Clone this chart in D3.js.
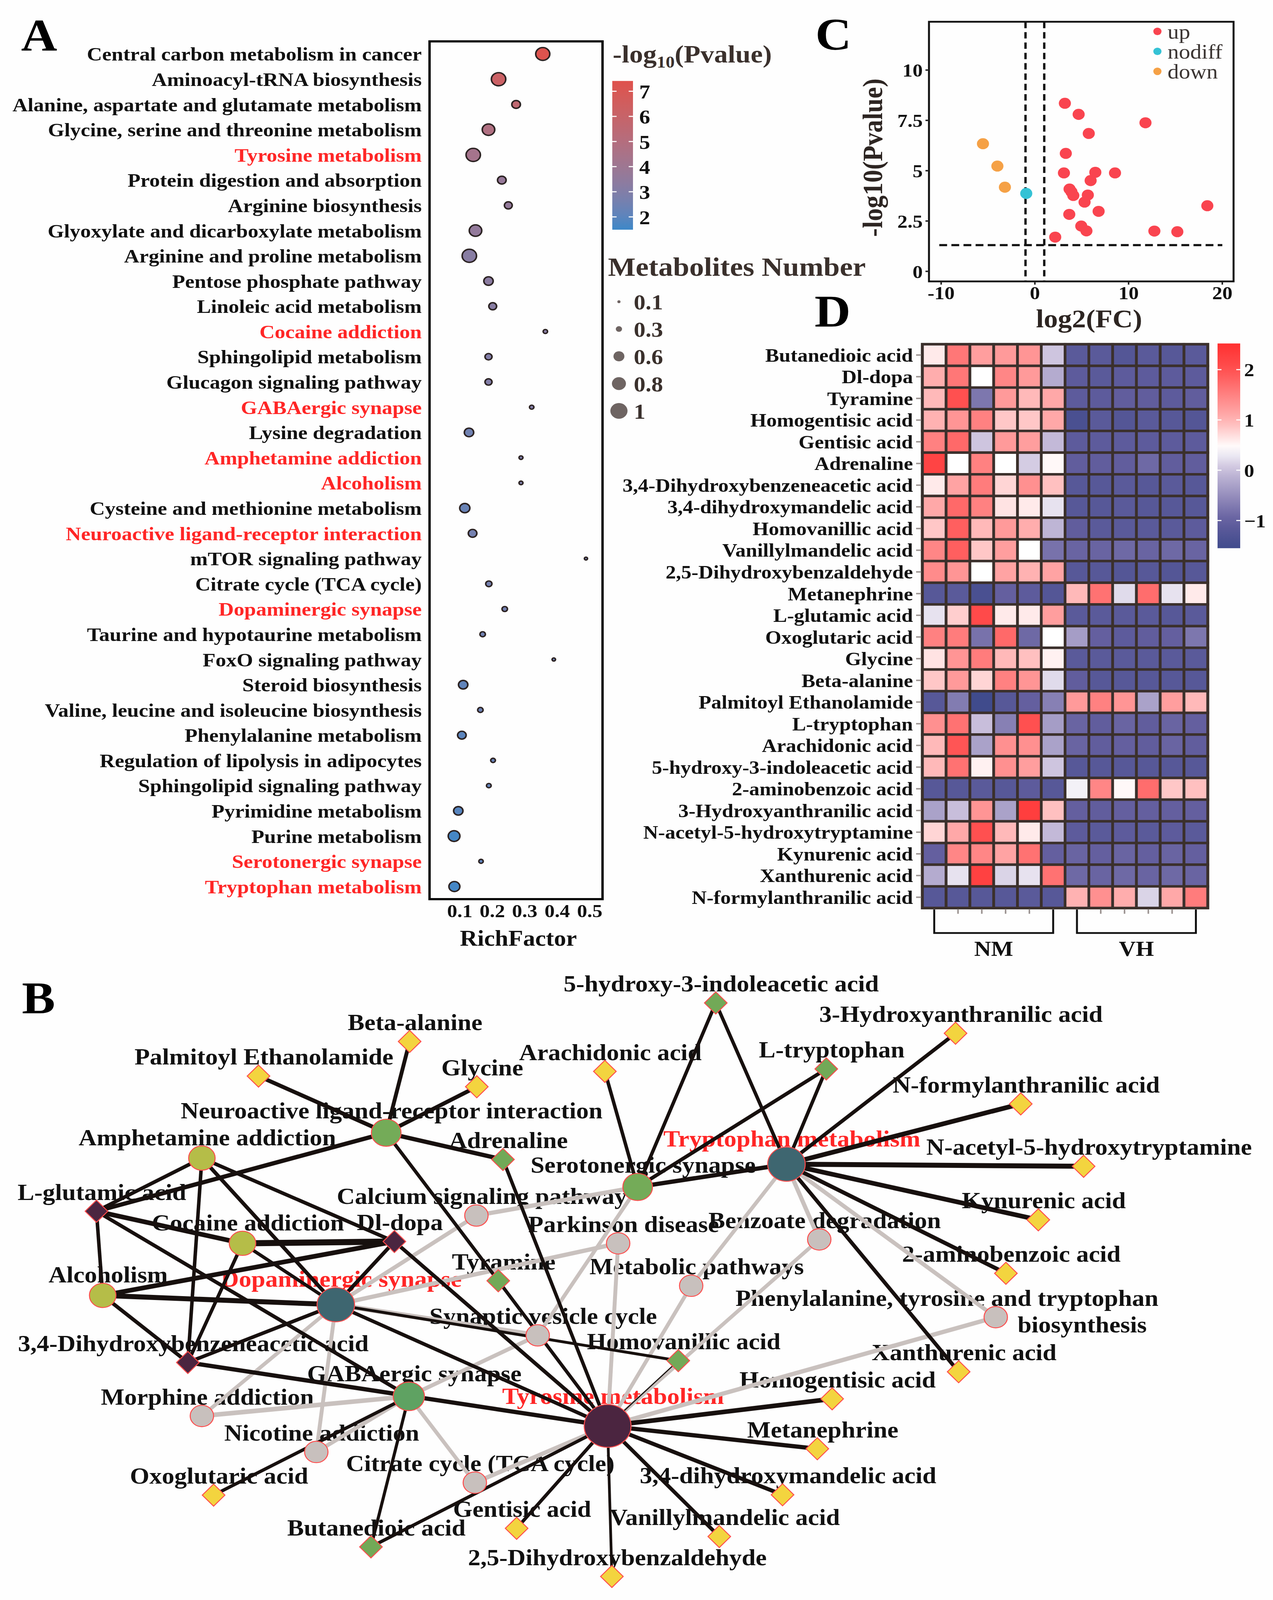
<!DOCTYPE html>
<html>
<head>
<meta charset="utf-8">
<script src="https://cdn.jsdelivr.net/npm/d3@7"></script>
<style>
html, body { margin: 0; padding: 0; background: #fefefe; overflow: hidden; }
svg { display: block; }
text { font-family: "Liberation Serif", "Times New Roman", serif; font-weight: bold; }
</style>
</head>
<body>
<div id="viz"></div>
<script>
const width = 3260;
const height = 4486;

// ---------- panel A data ----------
const pathways = ["Central carbon metabolism in cancer", "Aminoacyl-tRNA biosynthesis",
  "Alanine, aspartate and glutamate metabolism", "Glycine, serine and threonine metabolism",
  "Tyrosine metabolism", "Protein digestion and absorption", "Arginine biosynthesis",
  "Glyoxylate and dicarboxylate metabolism", "Arginine and proline metabolism",
  "Pentose phosphate pathway", "Linoleic acid metabolism", "Cocaine addiction",
  "Sphingolipid metabolism", "Glucagon signaling pathway", "GABAergic synapse",
  "Lysine degradation", "Amphetamine addiction", "Alcoholism",
  "Cysteine and methionine metabolism", "Neuroactive ligand-receptor interaction",
  "mTOR signaling pathway", "Citrate cycle (TCA cycle)", "Dopaminergic synapse",
  "Taurine and hypotaurine metabolism", "FoxO signaling pathway", "Steroid biosynthesis",
  "Valine, leucine and isoleucine biosynthesis", "Phenylalanine metabolism",
  "Regulation of lipolysis in adipocytes", "Sphingolipid signaling pathway",
  "Pyrimidine metabolism", "Purine metabolism", "Serotonergic synapse", "Tryptophan metabolism"];
const richFactor = [0.356, 0.220, 0.274, 0.189, 0.142, 0.230, 0.250, 0.149, 0.130, 0.189, 0.202, 0.364,
  0.189, 0.189, 0.322, 0.129, 0.289, 0.289, 0.116, 0.140, 0.489, 0.190, 0.239, 0.171, 0.390, 0.111,
  0.164, 0.107, 0.203, 0.190, 0.096, 0.083, 0.166, 0.084];
const logP = [7.3, 6.2, 5.6, 4.8, 4.3, 3.7, 3.6, 3.6, 3.2, 3.3, 3.2, 3.2, 3.0, 3.0, 3.0, 2.5, 2.9, 2.9,
  2.3, 2.6, 2.7, 2.6, 2.6, 2.5, 2.5, 2.1, 2.4, 2.0, 2.3, 2.2, 1.9, 1.6, 2.1, 1.6];
const metNumber = [0.9, 0.92, 0.55, 0.8, 0.92, 0.55, 0.5, 0.8, 0.92, 0.6, 0.5, 0.28, 0.45, 0.45, 0.28,
  0.6, 0.25, 0.25, 0.65, 0.55, 0.2, 0.4, 0.35, 0.35, 0.22, 0.6, 0.35, 0.55, 0.3, 0.3, 0.6, 0.75, 0.28, 0.7];
const redPathways = ["Tyrosine metabolism", "Cocaine addiction", "GABAergic synapse", "Amphetamine addiction",
  "Alcoholism", "Neuroactive ligand-receptor interaction", "Dopaminergic synapse",
  "Serotonergic synapse", "Tryptophan metabolism"];
const richTicks = [0.1, 0.2, 0.3, 0.4, 0.5];
const pTicks = [2, 3, 4, 5, 6, 7];
const sizeTicks = [0.1, 0.3, 0.6, 0.8, 1];

// ---------- panel C data ----------
const upX = [3.2, 4.67, 11.8, 5.75, 3.3, 3.1, 6.45, 8.55, 5.95, 3.7, 3.9, 4.1, 5.65, 5.3, 18.4, 6.8, 3.67, 4.95, 5.5, 12.75, 15.2, 2.17];
const upY = [8.35, 7.8, 7.38, 6.85, 5.86, 4.89, 4.92, 4.89, 4.51, 4.09, 3.95, 3.77, 3.79, 3.44, 3.26, 2.98, 2.83, 2.25, 2.01, 2.0, 1.97, 1.7];
const downX = [-5.54, -4.0, -3.2];
const downY = [6.34, 5.23, 4.18];
const nodiffX = [-0.92];
const nodiffY = [3.87];
const volcanoGroups = ["up", "nodiff", "down"];
const fcTicks = [-10, 0, 10, 20];
const pvTicks = [0, 2.5, 5, 7.5, 10];

// ---------- panel D data ----------
const metabolites = ["Butanedioic acid", "Dl-dopa", "Tyramine", "Homogentisic acid", "Gentisic acid",
  "Adrenaline", "3,4-Dihydroxybenzeneacetic acid", "3,4-dihydroxymandelic acid", "Homovanillic acid",
  "Vanillylmandelic acid", "2,5-Dihydroxybenzaldehyde", "Metanephrine", "L-glutamic acid",
  "Oxoglutaric acid", "Glycine", "Beta-alanine", "Palmitoyl Ethanolamide", "L-tryptophan",
  "Arachidonic acid", "5-hydroxy-3-indoleacetic acid", "2-aminobenzoic acid",
  "3-Hydroxyanthranilic acid", "N-acetyl-5-hydroxytryptamine", "Kynurenic acid",
  "Xanthurenic acid", "N-formylanthranilic acid"];
const samples = ["NM1", "NM2", "NM3", "NM4", "NM5", "NM6", "VH1", "VH2", "VH3", "VH4", "VH5", "VH6"];
const groups = ["NM", "VH"];
const heatValues = [
  [0.6, 1.6, 1.2, 1.25, 1.3, 0.05, -1.15, -1.15, -1.25, -1.15, -1.2, -1.15],
  [1.05, 1.6, 0.45, 1.45, 1.25, -0.2, -1.1, -1.15, -1.1, -1.1, -1.1, -1.1],
  [0.95, 2.0, -0.75, 1.25, 0.95, 1.1, -1.1, -1.1, -1.05, -1.05, -1.1, -1.05],
  [1.0, 1.3, 1.5, 0.85, 0.85, 1.1, -1.4, -1.15, -1.25, -1.15, -1.2, -1.25],
  [1.5, 1.75, 0.05, 1.25, 1.2, -0.05, -1.1, -1.1, -1.1, -1.1, -1.1, -1.1],
  [2.2, 0.45, 1.5, 0.45, 0.1, 0.5, -1.05, -1.05, -1.05, -0.9, -1.05, -1.05],
  [0.6, 1.15, 1.55, 0.75, 1.35, 0.9, -1.2, -1.2, -1.15, -1.2, -1.15, -1.2],
  [1.1, 1.75, 1.5, 0.65, 0.6, 0.25, -1.2, -1.2, -1.15, -1.2, -1.2, -1.2],
  [0.85, 1.85, 0.95, 1.25, 1.05, -0.1, -1.05, -1.15, -1.15, -1.15, -1.15, -1.1],
  [1.45, 1.85, 0.85, 1.2, 0.45, -0.8, -0.95, -0.95, -0.9, -0.95, -0.9, -0.95],
  [1.4, 1.3, 0.45, 1.15, 1.0, 1.15, -1.2, -1.2, -1.25, -1.2, -1.25, -1.2],
  [-1.2, -1.15, -1.4, -1.0, -1.1, -1.25, 0.95, 1.65, 0.2, 1.7, 0.25, 0.6],
  [0.25, 0.8, 2.1, 0.6, 0.6, 1.2, -1.15, -1.15, -1.15, -1.15, -1.2, -1.15],
  [1.5, 1.55, -0.8, 1.75, -0.9, 0.45, -0.35, -1.0, -1.1, -1.05, -1.0, -0.75],
  [0.65, 1.3, 1.55, 0.95, 0.9, 0.55, -1.15, -1.15, -1.15, -1.15, -1.15, -1.15],
  [0.85, 1.25, 0.75, 1.5, 1.3, 0.2, -1.05, -1.2, -1.2, -1.2, -1.2, -1.2],
  [-1.2, -0.7, -1.55, -1.2, -1.0, -0.65, 1.25, 1.5, 1.3, -0.3, 1.2, 0.95],
  [1.35, 1.65, 0.0, -0.65, 2.0, -0.35, -0.95, -1.05, -0.95, -1.05, -0.95, -1.0],
  [0.95, 1.95, -0.3, 1.35, 1.35, -0.3, -0.95, -1.05, -1.0, -1.05, -0.95, -1.05],
  [0.95, 1.65, 0.55, 1.35, 1.2, 0.05, -1.2, -1.2, -1.2, -1.2, -1.2, -1.2],
  [-1.2, -1.2, -1.15, -1.2, -1.1, -1.2, 0.35, 1.45, 0.5, 1.7, 0.85, 0.9],
  [-0.3, 0.0, 1.3, -0.3, 2.3, 0.9, -1.0, -1.05, -1.0, -1.0, -1.0, -1.0],
  [0.75, 1.1, 2.0, 0.95, 0.6, -0.05, -1.1, -1.15, -1.1, -1.15, -1.1, -1.15],
  [-1.0, 1.45, 1.45, 1.15, 1.65, -1.0, -0.95, -1.0, -0.95, -1.0, -0.95, -1.0],
  [-0.2, 0.25, 2.25, 0.15, 0.25, 1.65, -0.9, -0.95, -0.9, -0.95, -0.9, -0.95],
  [-1.2, -1.2, -1.2, -1.2, -1.15, -1.2, 1.0, 1.35, 1.05, 0.15, 1.1, 1.55]
];
const heatTicks = [-1, 0, 1, 2];

// ---------- panel B data (layout units) ----------
const netNodes = [
  ["Neuroactive ligand-receptor interaction", "green", 989, 476],
  ["Amphetamine addiction", "olive", 517, 547],
  ["Calcium signaling pathway", "gray", 1220, 708],
  ["Cocaine addiction", "olive", 621, 786],
  ["Serotonergic synapse", "green", 1633, 628],
  ["Parkinson disease", "gray", 1583, 786],
  ["Dopaminergic synapse", "teal", 860, 958],
  ["Alcoholism", "olive", 263, 932],
  ["Metabolic pathways", "gray", 1770, 905],
  ["Synaptic vesicle cycle", "gray", 1377, 1044],
  ["GABAergic synapse", "green2", 1047, 1215],
  ["Morphine addiction", "gray", 517, 1270],
  ["Tyrosine metabolism", "hub", 1556, 1298],
  ["Nicotine addiction", "gray", 810, 1371],
  ["Citrate cycle (TCA cycle)", "gray", 1216, 1457],
  ["Tryptophan metabolism", "teal", 2014, 564],
  ["Benzoate degradation", "gray", 2098, 775],
  ["Phenylalanine, tyrosine and tryptophan biosynthesis", "gray", 2550, 993],
  ["Beta-alanine", "dYellow", 1049, 220],
  ["Palmitoyl Ethanolamide", "dYellow", 662, 317],
  ["Glycine", "dYellow", 1221, 347],
  ["Arachidonic acid", "dYellow", 1549, 304],
  ["Adrenaline", "dGreen", 1288, 551],
  ["L-glutamic acid", "dPlum", 247, 696],
  ["Dl-dopa", "dPlum", 1010, 781],
  ["Tyramine", "dGreen", 1276, 891],
  ["3,4-Dihydroxybenzeneacetic acid", "dPlum", 481, 1120],
  ["Homovanillic acid", "dGreen", 1737, 1115],
  ["Oxoglutaric acid", "dYellow", 547, 1492],
  ["Gentisic acid", "dYellow", 1323, 1585],
  ["Butanedioic acid", "dGreen", 950, 1637],
  ["2,5-Dihydroxybenzaldehyde", "dYellow", 1567, 1720],
  ["5-hydroxy-3-indoleacetic acid", "dGreen", 1833, 112],
  ["3-Hydroxyanthranilic acid", "dYellow", 2447, 197],
  ["L-tryptophan", "dGreen", 2116, 297],
  ["N-formylanthranilic acid", "dYellow", 2614, 395],
  ["N-acetyl-5-hydroxytryptamine", "dYellow", 2775, 570],
  ["Kynurenic acid", "dYellow", 2659, 720],
  ["2-aminobenzoic acid", "dYellow", 2576, 870],
  ["Xanthurenic acid", "dYellow", 2455, 1146],
  ["Homogentisic acid", "dYellow", 2131, 1222],
  ["Metanephrine", "dYellow", 2093, 1362],
  ["3,4-dihydroxymandelic acid", "dYellow", 2004, 1491],
  ["Vanillylmandelic acid", "dYellow", 1842, 1608]
];
const NEU = "Neuroactive ligand-receptor interaction", TYR = "Tyrosine metabolism",
  TRP = "Tryptophan metabolism", DOP = "Dopaminergic synapse", GABA = "GABAergic synapse",
  SER = "Serotonergic synapse", DHBA = "3,4-Dihydroxybenzeneacetic acid";
const blackEdges = [
  [NEU, "Palmitoyl Ethanolamide", 11], [NEU, "Beta-alanine", 10], [NEU, "Glycine", 11],
  [NEU, "Adrenaline", 12], [NEU, "L-glutamic acid", 12], [NEU, "Tyramine", 9],
  ["Adrenaline", TYR, 9], ["Tyramine", TYR, 9],
  ["Amphetamine addiction", "L-glutamic acid", 10], ["Amphetamine addiction", "Dl-dopa", 10],
  ["Amphetamine addiction", DHBA, 9], ["Amphetamine addiction", DOP, 10],
  ["L-glutamic acid", "Cocaine addiction", 13], ["L-glutamic acid", "Alcoholism", 9], ["L-glutamic acid", GABA, 10],
  ["Cocaine addiction", "Dl-dopa", 17], ["Cocaine addiction", DHBA, 9], ["Cocaine addiction", DOP, 9],
  ["Alcoholism", "Dl-dopa", 13], ["Alcoholism", DOP, 14], ["Alcoholism", DHBA, 10],
  ["Dl-dopa", DOP, 10], ["Dl-dopa", TYR, 10], [DHBA, DOP, 10], [DHBA, TYR, 12],
  [DOP, TYR, 10], [DOP, "Homovanillic acid", 8], ["Homovanillic acid", TYR, 3],
  ["Homogentisic acid", TYR, 13], ["Metanephrine", TYR, 12], ["3,4-dihydroxymandelic acid", TYR, 11],
  ["Vanillylmandelic acid", TYR, 10], ["2,5-Dihydroxybenzaldehyde", TYR, 7], ["Gentisic acid", TYR, 9],
  ["Butanedioic acid", TYR, 9], ["Butanedioic acid", GABA, 8], ["Oxoglutaric acid", GABA, 9],
  ["Arachidonic acid", SER, 9], ["5-hydroxy-3-indoleacetic acid", SER, 9],
  ["5-hydroxy-3-indoleacetic acid", TRP, 9], ["L-tryptophan", SER, 10], ["L-tryptophan", TRP, 9],
  [SER, TRP, 12], [TRP, "3-Hydroxyanthranilic acid", 10], [TRP, "N-formylanthranilic acid", 13],
  [TRP, "N-acetyl-5-hydroxytryptamine", 14], [TRP, "Kynurenic acid", 13],
  [TRP, "2-aminobenzoic acid", 11], [TRP, "Xanthurenic acid", 10]
];
const grayEdges = [
  ["Calcium signaling pathway", DOP, 11], ["Calcium signaling pathway", SER, 12],
  ["Parkinson disease", DOP, 12], ["Parkinson disease", TYR, 10],
  ["Synaptic vesicle cycle", DOP, 14], ["Synaptic vesicle cycle", GABA, 11], ["Synaptic vesicle cycle", SER, 10],
  ["Metabolic pathways", TRP, 10], ["Metabolic pathways", TYR, 10],
  ["Benzoate degradation", TRP, 11], ["Benzoate degradation", TYR, 10],
  ["Phenylalanine, tyrosine and tryptophan biosynthesis", TRP, 11],
  ["Phenylalanine, tyrosine and tryptophan biosynthesis", TYR, 12],
  ["Morphine addiction", DOP, 10], ["Morphine addiction", GABA, 13],
  ["Nicotine addiction", DOP, 10], ["Nicotine addiction", GABA, 11],
  ["Citrate cycle (TCA cycle)", GABA, 10], ["Citrate cycle (TCA cycle)", TYR, 12]
];
const redNodes = [TYR, TRP, DOP];

// ---------- styles ----------
const INK = "#3a302c";
const RED = "#ff2626";
const nodeStyle = {
  hub: { fill: "#4b2540", r: 60 }, teal: { fill: "#3e6670", r: 48 },
  green: { fill: "#74ab58", r: 38 }, green2: { fill: "#5fa262", r: 40 },
  olive: { fill: "#b5bd48", r: 34 }, gray: { fill: "#c8c0bd", r: 30 },
  dYellow: { fill: "#f3d43f", r: 30 }, dGreen: { fill: "#72a957", r: 30 }, dPlum: { fill: "#4b2540", r: 30 }
};

// the drawing is laid out on a 3260 x 4486 board and stretched to whatever viewport we get
const vw = window.innerWidth || width;
const vh = window.innerHeight || height;
const svg = d3.select("#viz").append("svg")
  .attr("width", vw)
  .attr("height", vh)
  .attr("viewBox", `0 0 ${width} ${height}`)
  .attr("preserveAspectRatio", "none");
svg.append("rect").attr("width", width).attr("height", height).attr("fill", "#fefefe");
const defs = svg.append("defs");

function letter(t, x, y) {
  svg.append("text").attr("x", x).attr("y", y).style("font-size", "128px").attr("fill", "#000").text(t);
}
letter("A", 54, 141);
letter("B", 56, 2841);
letter("C", 2088, 139);
letter("D", 2086, 916);

// ================= PANEL A =================
const yA = d3.scalePoint().domain(pathways).range([116, 2521]).padding(0.5);
const xA = d3.scaleLinear().domain([0.0075, 0.54]).range([1100, 1543]);
const rA = d3.scaleLinear().domain([0, 1]).range([0, 20]);
const colA = d3.scaleLinear().domain([1.49, 7.41]).range(["#3d88c8", "#df514c"]).interpolate(d3.interpolateLab);

const gA = svg.append("g");
gA.selectAll("text.path")
  .data(pathways)
  .join("text")
  .attr("x", xA.range()[0] - 20)
  .attr("y", d => yA(d))
  .attr("dy", "0.35em")
  .attr("text-anchor", "end")
  .style("font-size", "54px")
  .attr("fill", d => redPathways.includes(d) ? RED : "#111")
  .text(d => d);

const dotsA = pathways.map((p, i) => ({ p: p, rf: richFactor[i], lp: logP[i], n: metNumber[i] }));
gA.selectAll("circle.dot")
  .data(dotsA)
  .join("circle")
  .attr("cx", d => xA(d.rf))
  .attr("cy", d => yA(d.p))
  .attr("r", d => rA(d.n))
  .attr("fill", d => colA(d.lp))
  .attr("stroke", "#2b2222")
  .attr("stroke-width", 4);

gA.append("rect")
  .attr("x", xA.range()[0]).attr("y", yA.range()[0])
  .attr("width", xA.range()[1] - xA.range()[0])
  .attr("height", yA.range()[1] - yA.range()[0])
  .attr("fill", "none").attr("stroke", "#000").attr("stroke-width", 6);

const axA = gA.append("g")
  .attr("transform", "translate(0," + yA.range()[1] + ")")
  .call(d3.axisBottom(xA).tickValues(richTicks).tickSize(0).tickPadding(14).tickFormat(d3.format(".1f")));
axA.select(".domain").remove();
axA.selectAll("text").style("font-size", "52px").style("font-family", "Liberation Serif").style("font-weight", "bold").attr("fill", "#111");

gA.append("text").attr("x", (xA.range()[0] + xA.range()[1]) / 2 + 6).attr("y", 2652)
  .attr("text-anchor", "middle").style("font-size", "62px").attr("fill", "#111").text("RichFactor");

// colour bar legend
const cbA = d3.scaleLinear().domain([1.49, 7.41]).range([644, 227]);
const gradA = defs.append("linearGradient").attr("id", "gradA").attr("x1", 0).attr("y1", 1).attr("x2", 0).attr("y2", 0);
d3.range(0, 1.0001, 0.1).forEach(t => {
  gradA.append("stop").attr("offset", t).attr("stop-color", colA(1.49 + t * (7.41 - 1.49)));
});
const legA = svg.append("g");
const ttl = legA.append("text").attr("x", 1569).attr("y", 175).style("font-size", "70px").attr("fill", INK);
ttl.append("tspan").text("-log");
ttl.append("tspan").attr("dy", 15).style("font-size", "46px").text("10");
ttl.append("tspan").attr("dy", -15).text("(Pvalue)");
legA.append("rect").attr("x", 1568).attr("y", cbA.range()[1]).attr("width", 53)
  .attr("height", cbA.range()[0] - cbA.range()[1]).attr("fill", "url(#gradA)");
legA.selectAll("line.tl").data(pTicks).join("line")
  .attr("x1", 1568).attr("x2", 1579).attr("y1", d => cbA(d)).attr("y2", d => cbA(d))
  .attr("stroke", "#fff").attr("stroke-width", 3);
legA.selectAll("line.tr").data(pTicks).join("line")
  .attr("x1", 1610).attr("x2", 1621).attr("y1", d => cbA(d)).attr("y2", d => cbA(d))
  .attr("stroke", "#fff").attr("stroke-width", 3);
legA.selectAll("text.cbl").data(pTicks).join("text")
  .attr("x", 1637).attr("y", d => cbA(d)).attr("dy", "0.36em")
  .style("font-size", "56px").attr("fill", "#111").text(d => d);

legA.append("text").attr("x", 1557).attr("y", 773).style("font-size", "75px").attr("fill", INK).text("Metabolites Number");
const ySz = d3.scalePoint().domain(sizeTicks).range([846, 1152]);
legA.selectAll("circle.sz").data(sizeTicks).join("circle")
  .attr("cx", 1585).attr("cy", d => ySz(d)).attr("r", d => rA(d) + 2).attr("fill", "#6e6462");
legA.selectAll("text.szl").data(sizeTicks).join("text")
  .attr("x", 1623).attr("y", d => ySz(d)).attr("dy", "0.36em")
  .style("font-size", "60px").attr("fill", INK).text(d => d);

// ================= PANEL C =================
const xC = d3.scaleLinear().domain([-11.3, 21.2]).range([2379, 3159]);
const yC = d3.scaleLinear().domain([-0.5, 12.4]).range([789, 61]);
const volColor = d3.scaleOrdinal().domain(volcanoGroups).range(["#f9444f", "#35c2d5", "#f5a146"]);
const gC = svg.append("g");

const dash = { stroke: "#111", w: 6, da: "18,11" };
[-1, 1].forEach(v => {
  gC.append("line").attr("x1", xC(v)).attr("x2", xC(v)).attr("y1", yC.range()[1]).attr("y2", yC.range()[0])
    .attr("stroke", dash.stroke).attr("stroke-width", dash.w).attr("stroke-dasharray", dash.da);
});
gC.append("line").attr("x1", xC(-10.2)).attr("x2", xC(20)).attr("y1", yC(1.301)).attr("y2", yC(1.301))
  .attr("stroke", dash.stroke).attr("stroke-width", dash.w).attr("stroke-dasharray", "20,11");

const volPts = []
  .concat(upX.map((x, i) => ({ g: "up", x: x, y: upY[i] })))
  .concat(nodiffX.map((x, i) => ({ g: "nodiff", x: x, y: nodiffY[i] })))
  .concat(downX.map((x, i) => ({ g: "down", x: x, y: downY[i] })));
gC.selectAll("circle.v").data(volPts).join("circle")
  .attr("cx", d => xC(d.x)).attr("cy", d => yC(d.y)).attr("r", 15.5)
  .attr("fill", d => volColor(d.g));

gC.append("rect").attr("x", xC.range()[0]).attr("y", yC.range()[1])
  .attr("width", xC.range()[1] - xC.range()[0]).attr("height", yC.range()[0] - yC.range()[1])
  .attr("fill", "none").attr("stroke", "#111").attr("stroke-width", 5);

gC.selectAll("line.xt").data(fcTicks).join("line")
  .attr("x1", d => xC(d)).attr("x2", d => xC(d)).attr("y1", yC.range()[0]).attr("y2", yC.range()[0] + 9)
  .attr("stroke", "#222").attr("stroke-width", 4);
gC.selectAll("text.xt").data(fcTicks).join("text")
  .attr("x", d => xC(d)).attr("y", 839).attr("text-anchor", "middle")
  .style("font-size", "52px").attr("fill", "#111").text(d => d);
gC.selectAll("line.yt").data(pvTicks).join("line")
  .attr("x1", xC.range()[0] - 9).attr("x2", xC.range()[0]).attr("y1", d => yC(d)).attr("y2", d => yC(d))
  .attr("stroke", "#222").attr("stroke-width", 4);
gC.selectAll("text.yt").data(pvTicks).join("text")
  .attr("x", xC.range()[0] - 16).attr("y", d => yC(d)).attr("dy", "0.36em").attr("text-anchor", "end")
  .style("font-size", "52px").attr("fill", "#111").text(d => d);

gC.append("text").attr("transform", "translate(2259,442) rotate(-90)").attr("text-anchor", "middle")
  .style("font-size", "72px").attr("fill", "#2d2522").text("-log10(Pvalue)");
gC.append("text").attr("x", 2789).attr("y", 918).attr("text-anchor", "middle")
  .style("font-size", "72px").attr("fill", "#2d2522").text("log2(FC)");

const yLegC = d3.scalePoint().domain(volcanoGroups).range([88, 200]);
gC.selectAll("circle.lg").data(volcanoGroups).join("circle")
  .attr("cx", 2964).attr("cy", d => yLegC(d)).attr("r", 10.5).attr("fill", d => volColor(d));
gC.selectAll("text.lg").data(volcanoGroups).join("text")
  .attr("x", 2990).attr("y", d => yLegC(d) + 20)
  .style("font-size", "58px").style("font-weight", "normal").attr("fill", "#3b3533").text(d => d);

// ================= PANEL D =================
const xD = d3.scaleBand().domain(samples).range([2362, 3093]);
const yD = d3.scaleBand().domain(metabolites).range([965, 2546]);
const heatColor = d3.scaleLinear()
  .domain([-1.55, -1, 0, 0.45, 1, 2, 2.52])
  .range(["#404b8c", "#645f9f", "#c8bedb", "#ffffff", "#ffb2b2", "#ff5050", "#ff3030"]);
const gD = svg.append("g");
const cells = [];
metabolites.forEach((m, i) => samples.forEach((s, j) => cells.push({ m: m, s: s, v: heatValues[i][j] })));
gD.selectAll("rect.cell").data(cells).join("rect")
  .attr("x", d => xD(d.s)).attr("y", d => yD(d.m))
  .attr("width", xD.bandwidth()).attr("height", yD.bandwidth())
  .attr("fill", d => heatColor(d.v))
  .attr("stroke", "#3b302c").attr("stroke-width", 7);
gD.append("rect").attr("x", xD.range()[0]).attr("y", yD.range()[0])
  .attr("width", xD.range()[1] - xD.range()[0]).attr("height", yD.range()[1] - yD.range()[0])
  .attr("fill", "none").attr("stroke", "#3b302c").attr("stroke-width", 7);

gD.selectAll("line.rt").data(metabolites).join("line")
  .attr("x1", xD.range()[0] - 16).attr("x2", xD.range()[0] - 3)
  .attr("y1", d => yD(d) + yD.bandwidth() / 2).attr("y2", d => yD(d) + yD.bandwidth() / 2)
  .attr("stroke", "#9b9391").attr("stroke-width", 4);
gD.selectAll("text.rl").data(metabolites).join("text")
  .attr("x", xD.range()[0] - 24).attr("y", d => yD(d) + yD.bandwidth() / 2).attr("dy", "0.35em")
  .attr("text-anchor", "end").style("font-size", "53px").attr("fill", "#111").text(d => d);
gD.selectAll("line.ct").data(samples).join("line")
  .attr("x1", d => xD(d) + xD.bandwidth() / 2).attr("x2", d => xD(d) + xD.bandwidth() / 2)
  .attr("y1", yD.range()[1] + 3).attr("y2", yD.range()[1] + 16)
  .attr("stroke", "#9b9391").attr("stroke-width", 4);

groups.forEach(g => {
  const cols = samples.filter(s => s.startsWith(g));
  const x1 = xD(cols[0]) + xD.bandwidth() / 2;
  const x2 = xD(cols[cols.length - 1]) + xD.bandwidth() / 2;
  gD.append("path").attr("d", `M${x1},${yD.range()[1] + 4}V2616H${x2}V${yD.range()[1] + 4}`)
    .attr("fill", "none").attr("stroke", "#111").attr("stroke-width", 5);
  gD.append("text").attr("x", (x1 + x2) / 2).attr("y", 2680).attr("text-anchor", "middle")
    .style("font-size", "60px").attr("fill", "#111").text(g);
});

const cbD = d3.scaleLinear().domain([-1.55, 2.52]).range([1537, 963]);
const gradD = defs.append("linearGradient").attr("id", "gradD").attr("x1", 0).attr("y1", 1).attr("x2", 0).attr("y2", 0);
d3.range(0, 1.0001, 0.05).forEach(t => {
  gradD.append("stop").attr("offset", t).attr("stop-color", heatColor(-1.55 + t * (2.52 + 1.55)));
});
gD.append("rect").attr("x", 3118).attr("y", cbD.range()[1]).attr("width", 58)
  .attr("height", cbD.range()[0] - cbD.range()[1]).attr("fill", "url(#gradD)");
gD.selectAll("line.hl").data(heatTicks).join("line")
  .attr("x1", 3118).attr("x2", 3128).attr("y1", d => cbD(d)).attr("y2", d => cbD(d))
  .attr("stroke", "#fff").attr("stroke-width", 3);
gD.selectAll("line.hr").data(heatTicks).join("line")
  .attr("x1", 3166).attr("x2", 3176).attr("y1", d => cbD(d)).attr("y2", d => cbD(d))
  .attr("stroke", "#fff").attr("stroke-width", 3);
gD.selectAll("text.hl").data(heatTicks).join("text")
  .attr("x", 3186).attr("y", d => cbD(d)).attr("dy", "0.36em")
  .style("font-size", "52px").attr("fill", "#111").text(d => d < 0 ? "\u2212" + Math.abs(d) : d);

// ================= PANEL B =================
const xB = d3.scaleLinear().domain([0, 3260]).range([0, 3260]);
const yB = d3.scaleLinear().domain([0, 1786]).range([2700, 4486]);
const nodes = netNodes.map(d => ({ id: d[0], grp: d[1], x: xB(d[2]), y: yB(d[3]) }));
const byId = new Map(nodes.map(n => [n.id, n]));
const gB = svg.append("g");

// labels (under the edges, as in the original)
const labG = gB.append("g");
nodes.forEach(n => {
  const r = nodeStyle[n.grp].r;
  const col = redNodes.includes(n.id) ? RED : "#111";
  if (n.id.startsWith("Phenylalanine")) {
    labG.append("text").attr("x", n.x - 125).attr("y", n.y - r - 2).attr("text-anchor", "middle")
      .style("font-size", "64px").attr("fill", col).text("Phenylalanine, tyrosine and tryptophan");
    labG.append("text").attr("x", n.x + r + 26).attr("y", n.y + 43)
      .style("font-size", "64px").attr("fill", col).text("biosynthesis");
  } else {
    labG.append("text").attr("x", n.x + 14).attr("y", n.y - r - 2).attr("text-anchor", "middle")
      .style("font-size", "64px").attr("fill", col).text(n.id);
  }
});

gB.append("g").selectAll("line")
  .data(grayEdges).join("line")
  .attr("x1", d => byId.get(d[0]).x).attr("y1", d => byId.get(d[0]).y)
  .attr("x2", d => byId.get(d[1]).x).attr("y2", d => byId.get(d[1]).y)
  .attr("stroke", "#c9c1be").attr("stroke-width", d => d[2]);
gB.append("g").selectAll("line")
  .data(blackEdges).join("line")
  .attr("x1", d => byId.get(d[0]).x).attr("y1", d => byId.get(d[0]).y)
  .attr("x2", d => byId.get(d[1]).x).attr("y2", d => byId.get(d[1]).y)
  .attr("stroke", "#17100e").attr("stroke-width", d => d[2]);

const nodeG = gB.append("g");
nodeG.selectAll("circle")
  .data(nodes.filter(n => !n.grp.startsWith("d")))
  .join("circle")
  .attr("cx", d => d.x).attr("cy", d => d.y)
  .attr("r", d => nodeStyle[d.grp].r)
  .attr("fill", d => nodeStyle[d.grp].fill)
  .attr("stroke", "#ff4a4a").attr("stroke-width", 2.5);
nodeG.selectAll("path")
  .data(nodes.filter(n => n.grp.startsWith("d")))
  .join("path")
  .attr("d", d => {
    const r = nodeStyle[d.grp].r;
    return `M${d.x},${d.y - r - 1}L${d.x + r - 1},${d.y}L${d.x},${d.y + r + 1}L${d.x - r + 1},${d.y}Z`;
  })
  .attr("fill", d => nodeStyle[d.grp].fill)
  .attr("stroke", "#ff4a4a").attr("stroke-width", 2.5);
</script>
</body>
</html>
